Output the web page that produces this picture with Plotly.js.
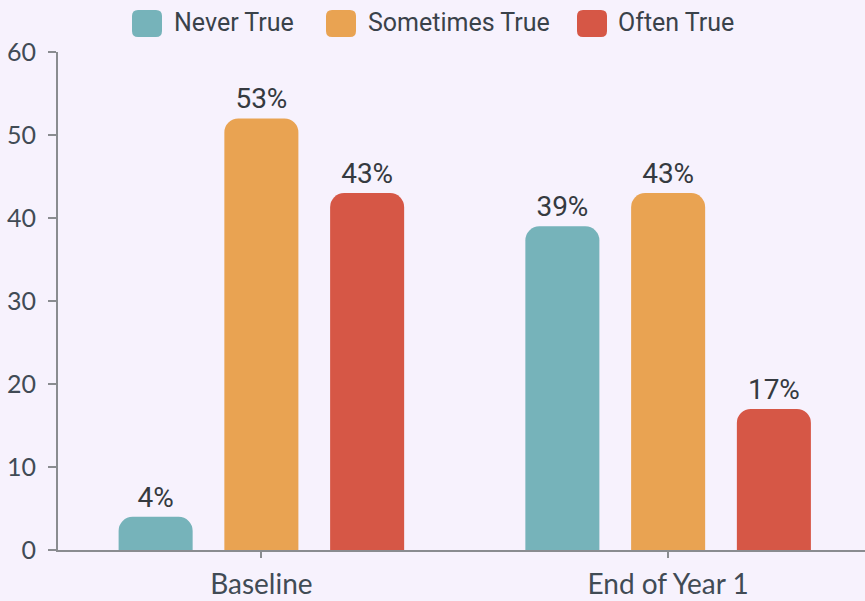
<!DOCTYPE html>
<html><head><meta charset="utf-8">
<script src="https://cdn.plot.ly/plotly-3.0.1.min.js"></script>
<style>html,body{margin:0;padding:0;background:#f7f2fd;}#chart{width:865px;height:601px;}</style>
</head><body><div id="chart"></div>
<script>
const categories = ["Baseline", "End of Year 1"];
const seriesNames = ["Never True", "Sometimes True", "Often True"];
const neverTrue = [4, 39];
const sometimesTrue = [52, 43];
const oftenTrue = [43, 17];
const neverLabels = ["4%", "39%"];
const sometimesLabels = ["53%", "43%"];
const oftenLabels = ["43%", "17%"];
const yTicks = [0, 10, 20, 30, 40, 50, 60];

const colors = ["#76b3ba", "#e9a352", "#d65746"];
const values = [neverTrue, sometimesTrue, oftenTrue];
const labels = [neverLabels, sometimesLabels, oftenLabels];
const textColor = "#353a40";
const labelFont = {family: "Roboto, sans-serif", size: 28, color: textColor};
const legendFont = {family: "Roboto, sans-serif", size: 25, color: "#3a424a"};

const traces = seriesNames.map((n, i) => ({
  type: "bar", name: n, x: categories, y: values[i],
  text: labels[i], textposition: "outside", textfont: labelFont,
  marker: {color: colors[i]}, cliponaxis: false, hoverinfo: "none"
}));

// custom legend (rounded swatches) in paper coordinates
const L = 58, W = 807, B = 550, H = 498;
const px = v => (v - L) / W, py = v => (B - v) / H;
const swatchLeft = [132, 326, 577];
const textLeft = [172, 366, 616];
function roundRect(x0, y0, x1, y1, r) {
  const a = px(x0), b = px(x1), c = py(y0), d = py(y1);
  const rx = r / W, ry = r / H;
  return `M${a + rx},${c} L${b - rx},${c} Q${b},${c} ${b},${c - ry} L${b},${d + ry} Q${b},${d} ${b - rx},${d} L${a + rx},${d} Q${a},${d} ${a},${d + ry} L${a},${c - ry} Q${a},${c} ${a + rx},${c} Z`;
}
const shapes = seriesNames.map((n, i) => ({
  type: "path", xref: "paper", yref: "paper",
  path: roundRect(swatchLeft[i], 10, swatchLeft[i] + 30, 37, 6),
  fillcolor: colors[i], line: {width: 0}
}));
const annotations = seriesNames.map((n, i) => ({
  text: n, xref: "paper", yref: "paper", x: px(textLeft[i]), y: py(23),
  xanchor: "left", yanchor: "middle", showarrow: false, font: legendFont
}));

const layout = {
  width: 865, height: 601,
  paper_bgcolor: "#f7f2fd", plot_bgcolor: "#f7f2fd",
  margin: {l: 58, r: 0, t: 52, b: 51},
  barmode: "group", bargap: 0.22, bargroupgap: 0.3, barcornerradius: 14,
  showlegend: false,
  shapes: shapes, annotations: annotations,
  xaxis: {type: "category", range: [-0.5, 1.484], showline: true, linecolor: "#8a8c90", linewidth: 2,
          ticks: "outside", ticklen: 6, tickcolor: "#8a8c90", tickwidth: 2, ticklabelstandoff: 2,
          tickfont: {family: "Lato, sans-serif", size: 28, color: "#414b55"}, showgrid: false, zeroline: false},
  yaxis: {range: [0, 60], tickvals: yTicks, showline: true, linecolor: "#8a8c90", linewidth: 2,
          ticks: "outside", ticklen: 8, tickcolor: "#8a8c90", tickwidth: 2, ticklabelstandoff: 7,
          tickfont: {family: "Lato, sans-serif", size: 25, color: "#414b55"}, showgrid: false, zeroline: false}
};
Plotly.newPlot("chart", traces, layout, {displayModeBar: false, staticPlot: true});
</script></body></html>
